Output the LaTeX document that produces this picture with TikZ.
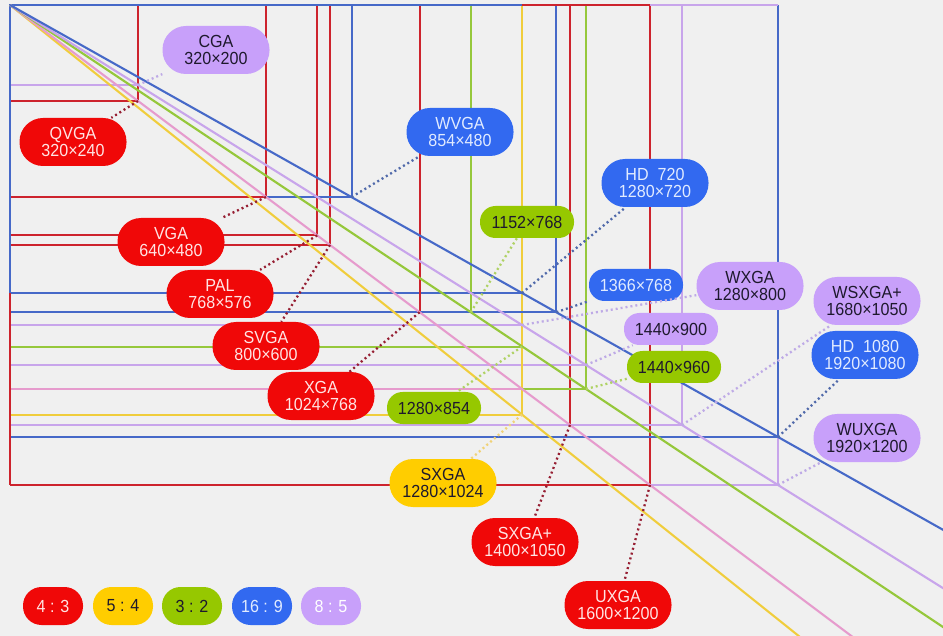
\documentclass[tikz,border=0pt]{standalone}
\usepackage{fontspec}
\newfontfamily\labfont[FakeStretch=0.92]{Liberation Sans}

% line colours
\definecolor{bgGray}{RGB}{240,240,240}
\definecolor{lnRed}{RGB}{205,35,45}
\definecolor{lnBlue}{RGB}{70,105,200}
\definecolor{lnLav}{RGB}{200,165,235}
\definecolor{lnGreen}{RGB}{150,200,60}
\definecolor{lnYellow}{RGB}{240,205,60}
\definecolor{lnPink}{RGB}{230,155,205}
% label colours
\definecolor{labRed}{RGB}{240,8,8}
\definecolor{labBlue}{RGB}{50,105,240}
\definecolor{labLav}{RGB}{200,160,250}
\definecolor{labGreen}{RGB}{150,200,0}
\definecolor{labYellow}{RGB}{255,205,0}
\definecolor{txtLight}{RGB}{255,228,228}
\definecolor{txtLightB}{RGB}{225,235,255}
\definecolor{txtDark}{RGB}{30,25,45}
% dotted link colours
\definecolor{dotRed}{RGB}{150,30,50}
\definecolor{dotBlue}{RGB}{80,105,170}
\definecolor{dotLav}{RGB}{190,170,230}
\definecolor{dotGreen}{RGB}{175,210,100}
\definecolor{dotYellow}{RGB}{240,210,120}

\begin{document}
\begin{tikzpicture}[x=1pt, y=-1pt,
  lbl/.style={inner sep=0pt, align=center,
    font={\labfont\fontsize{17.5}{17}\selectfont}},
  pill/.style={lbl, rounded corners=23.5pt, minimum width=107pt, minimum height=48pt},
  pillone/.style={lbl, rounded corners=15.5pt, minimum width=94pt, minimum height=32pt},
  legbox/.style={lbl, rounded corners=18.5pt, minimum width=60pt, minimum height=38pt},
  redlab/.style={fill=labRed, text=txtLight},
  bluelab/.style={fill=labBlue, text=txtLightB},
  lavlab/.style={fill=labLav, text=txtDark},
  greenlab/.style={fill=labGreen, text=txtDark},
  yellowlab/.style={fill=labYellow, text=txtDark},
  link/.style={line width=2.3pt, dash pattern=on 2pt off 3pt},
  edge/.style={line width=1.9pt},
  diag/.style={line width=2.1pt}]

  \fill[bgGray] (0,0) rectangle (943,636);
  \useasboundingbox (0,0) rectangle (943,636);
  \clip (0,0) rectangle (943,636);

  \begin{scope}[shift={(10,5)}, x=0.4pt, y=-0.4pt]
    % right and bottom edges, back to front
    \foreach \w/\h/\c in {1920/1200/lnLav, 1600/1200/lnRed, 1920/1080/lnBlue,
        1400/1050/lnRed, 1680/1050/lnLav, 1440/900/lnLav, 1440/960/lnGreen,
        1280/960/lnPink, 1280/854/lnGreen, 1280/800/lnLav, 1280/720/lnBlue,
        1280/1024/lnYellow, 1024/768/lnRed, 1152/768/lnGreen, 1366/768/lnBlue,
        800/600/lnRed, 768/576/lnRed, 854/480/lnBlue, 640/480/lnRed,
        320/200/lnLav, 320/240/lnRed}
      \draw[edge, \c] (\w,0) |- (0,\h);
    % top and left edges
    \draw[edge, lnRed] (0,720) -- (0,1200);
    \draw[edge, lnBlue] (0,720) -- (0,0) -- (1280,0);
    \draw[edge, lnRed] (1280,0) -- (1600,0);
    \draw[edge, lnLav] (1600,0) -- (1920,0);

    % aspect ratio diagonals
    \draw[diag, lnYellow] (0,0) -- (4000,3200);
    \draw[diag, lnPink] (0,0) -- (4000,3000);
    \draw[diag, lnGreen] (0,0) -- (4200,2800);
    \draw[diag, lnLav] (0,0) -- (4000,2500);
    \draw[diag, lnBlue] (0,0) -- (4000,2250);

    % corners
    \coordinate (cga) at (320,200);
    \coordinate (qvga) at (320,240);
    \coordinate (vga) at (640,480);
    \coordinate (wvga) at (854,480);
    \coordinate (pal) at (768,576);
    \coordinate (svga) at (800,600);
    \coordinate (xga) at (1024,768);
    \coordinate (r1152) at (1152,768);
    \coordinate (hd) at (1280,720);
    \coordinate (r1366) at (1366,768);
    \coordinate (wxga) at (1280,800);
    \coordinate (r1280) at (1280,854);
    \coordinate (r1440a) at (1440,900);
    \coordinate (r1440b) at (1440,960);
    \coordinate (sxga) at (1280,1024);
    \coordinate (sxgap) at (1400,1050);
    \coordinate (wsxga) at (1680,1050);
    \coordinate (fhd) at (1920,1080);
    \coordinate (wuxga) at (1920,1200);
    \coordinate (uxga) at (1600,1200);
  \end{scope}

  % labels
  \node[pill, lavlab] (cgaL) at (216,50) {CGA\\320×200};
  \node[pill, redlab] (qvgaL) at (73,142) {QVGA\\320×240};
  \node[pill, bluelab] (wvgaL) at (460,132) {WVGA\\854×480};
  \node[pill, bluelab] (hdL) at (655,183) {HD\ \ 720\\1280×720};
  \node[pill, redlab] (vgaL) at (171,242) {VGA\\640×480};
  \node[pill, redlab] (palL) at (220,294) {PAL\\768×576};
  \node[pill, redlab] (svgaL) at (266,346) {SVGA\\800×600};
  \node[pill, redlab] (xgaL) at (321,396) {XGA\\1024×768};
  \node[pillone, greenlab] (r1152L) at (527,222) {1152×768};
  \node[pillone, greenlab] (r1280L) at (434,408) {1280×854};
  \node[pillone, bluelab] (r1366L) at (636,285) {1366×768};
  \node[pill, lavlab] (wxgaL) at (750,286) {WXGA\\1280×800};
  \node[pillone, lavlab] (r1440aL) at (671,329) {1440×900};
  \node[pillone, greenlab] (r1440bL) at (674,367) {1440×960};
  \node[pill, lavlab] (wsxgaL) at (867,301) {WSXGA+\\1680×1050};
  \node[pill, bluelab] (fhdL) at (865,355) {HD\ \ 1080\\1920×1080};
  \node[pill, lavlab] (wuxgaL) at (867,438) {WUXGA\\1920×1200};
  \node[pill, yellowlab] (sxgaL) at (443,483) {SXGA\\1280×1024};
  \node[pill, redlab] (sxgapL) at (525,542) {SXGA+\\1400×1050};
  \node[pill, redlab] (uxgaL) at (618,605) {UXGA\\1600×1200};

  % dotted links, corner to label
  \draw[link, dotLav] (cga) -- (cgaL);
  \draw[link, dotRed] (qvga) -- (qvgaL);
  \draw[link, dotBlue] (wvga) -- (wvgaL);
  \draw[link, dotBlue] (hd) -- (hdL);
  \draw[link, dotRed] (vga) -- (vgaL);
  \draw[link, dotRed] (pal) -- (palL);
  \draw[link, dotRed] (svga) -- (svgaL);
  \draw[link, dotRed] (xga) -- (xgaL);
  \draw[link, dotGreen] (r1152) -- (r1152L);
  \draw[link, dotGreen] (r1280) -- (r1280L);
  \draw[link, dotBlue] (r1366) -- (r1366L);
  \draw[link, dotLav] (wxga) -- (wxgaL);
  \draw[link, dotLav] (r1440a) -- (r1440aL);
  \draw[link, dotGreen] (r1440b) -- (r1440bL);
  \draw[link, dotLav] (wsxga) -- (wsxgaL);
  \draw[link, dotBlue] (fhd) -- (fhdL);
  \draw[link, dotLav] (wuxga) -- (wuxgaL);
  \draw[link, dotYellow] (sxga) -- (sxgaL);
  \draw[link, dotRed] (sxgap) -- (sxgapL);
  \draw[link, dotRed] (uxga) -- (uxgaL);

  % legend
  \node[legbox, redlab] (leg43) at (53,606) {4 : 3};
  \node[legbox, yellowlab] (leg54) at (123,606) {5 : 4};
  \node[legbox, greenlab] (leg32) at (192,606) {3 : 2};
  \node[legbox, bluelab] (leg169) at (262,606) {16 : 9};
  \node[legbox, lavlab, text=white] (leg85) at (331,606) {8 : 5};
\end{tikzpicture}
\end{document}
